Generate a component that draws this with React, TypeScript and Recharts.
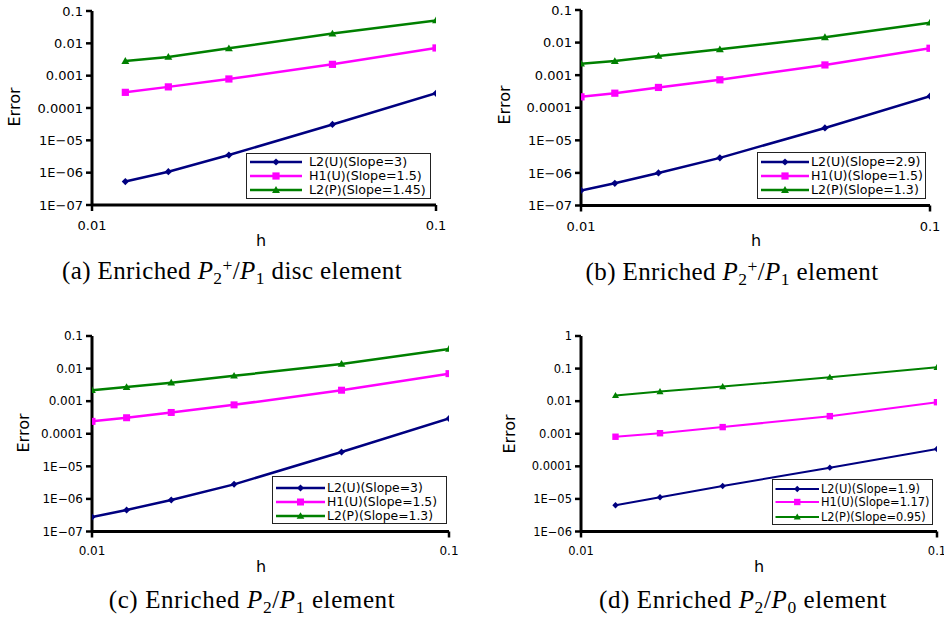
import React from "react";
import { LineChart, Line, XAxis, YAxis, Legend } from "recharts";

// mesh sizes h and error norms
const hA = [0.0125, 0.01667, 0.025, 0.05, 0.1];
const l2uA = [5.3e-7, 1.07e-6, 3.5e-6, 3.1e-5, 2.85e-4];
const h1uA = [3.05e-4, 4.5e-4, 7.9e-4, 2.24e-3, 7.2e-3];
const l2pA = [2.84e-3, 3.8e-3, 7.0e-3, 0.02, 0.051];
const namesA = ["L2(U)(Slope=3)", "H1(U)(Slope=1.5)", "L2(P)(Slope=1.45)"];

const hB = [0.01, 0.0125, 0.01667, 0.025, 0.05, 0.1];
const l2uB = [2.9e-7, 4.8e-7, 1.0e-6, 2.9e-6, 2.4e-5, 2.26e-4];
const h1uB = [2.16e-4, 2.8e-4, 4.2e-4, 7.2e-4, 2.06e-3, 6.7e-3];
const l2pB = [2.26e-3, 2.7e-3, 3.9e-3, 6.2e-3, 0.0145, 0.041];
const namesB = ["L2(U)(Slope=2.9)", "H1(U)(Slope=1.5)", "L2(P)(Slope=1.3)"];

const hC = [0.01, 0.0125, 0.01667, 0.025, 0.05, 0.1];
const l2uC = [2.8e-7, 4.6e-7, 9.3e-7, 2.8e-6, 2.75e-5, 2.95e-4];
const h1uC = [2.4e-4, 3.1e-4, 4.5e-4, 7.7e-4, 2.17e-3, 7.0e-3];
const l2pC = [2.17e-3, 2.7e-3, 3.7e-3, 6.0e-3, 0.0139, 0.04];
const namesC = ["L2(U)(Slope=3)", "H1(U)(Slope=1.5)", "L2(P)(Slope=1.3)"];

const hD = [0.0125, 0.01667, 0.025, 0.05, 0.1];
const l2uD = [6.4e-6, 1.12e-5, 2.5e-5, 9.1e-5, 3.4e-4];
const h1uD = [8.1e-4, 1.04e-3, 1.6e-3, 3.47e-3, 9.3e-3];
const l2pD = [0.0149, 0.0197, 0.028, 0.054, 0.109];
const namesD = ["L2(U)(Slope=1.9)", "H1(U)(Slope=1.17)", "L2(P)(Slope=0.95)"];

const xTicks = [0.01, 0.1];
const xTickLabels = ["0.01", "0.1"];
const yTicks7 = [1e-7, 1e-6, 1e-5, 1e-4, 1e-3, 1e-2, 1e-1];
const yTickLabels7 = ["1E\u221207", "1E\u221206", "1E\u221205", "0.0001", "0.001", "0.01", "0.1"];
const yTicks6 = [1e-6, 1e-5, 1e-4, 1e-3, 1e-2, 1e-1, 1];
const yTickLabels6 = ["1E\u221206", "1E\u221205", "0.0001", "0.001", "0.01", "0.1", "1"];

const FONT = '"DejaVu Sans", sans-serif';
const SERIF = '"Liberation Serif", "Times New Roman", serif';
const COLORS = ["#000080", "#FF00FF", "#008000"];
const SHAPES = ["diamond", "square", "triangle"];
const KEYS = ["l2u", "h1u", "l2p"];

function labelFor(v, ticks, labels) {
  let best = 0;
  ticks.forEach((t, i) => {
    if (Math.abs(Math.log10(t) - Math.log10(v)) < Math.abs(Math.log10(ticks[best]) - Math.log10(v))) best = i;
  });
  return labels[best];
}

function Marker({ shape, cx, cy, color, s }) {
  if (cx == null || cy == null) return null;
  if (shape === "diamond") {
    return <polygon points={`${cx},${cy - s} ${cx + s},${cy} ${cx},${cy + s} ${cx - s},${cy}`} fill={color} />;
  }
  if (shape === "square") {
    return <rect x={cx - s} y={cy - s} width={2 * s} height={2 * s} fill={color} />;
  }
  return <polygon points={`${cx},${cy - s * 1.1} ${cx + s * 1.1},${cy + s * 0.8} ${cx - s * 1.1},${cy + s * 0.8}`} fill={color} />;
}

function Sub({ children }) {
  return <span style={{ fontSize: "0.7em", verticalAlign: "-0.28em", lineHeight: 0 }}>{children}</span>;
}

// inline sub then superscript, kept in the text flow
function SubSup({ sub, sup }) {
  return (
    <>
      <span style={{ fontSize: "0.7em", verticalAlign: "-0.28em", lineHeight: 0 }}>{sub}</span>
      <span style={{ fontSize: "0.7em", verticalAlign: "0.46em", lineHeight: 0 }}>{sup}</span>
    </>
  );
}

const P = () => <i>P</i>;

const panels = [
  {
    id: "a", h: hA, l2u: l2uA, h1u: h1uA, l2p: l2pA, names: namesA,
    yTicks: yTicks7, yLabels: yTickLabels7,
    x0: 92, x1: 436, y0: 11, y1: 205, tickFs: 13, legendFs: 12.7, sw: 2.5, ms: 3.6, xtm: 10,
    lg: { x: 246, y: 152.5, w: 185, h: 46, l0: 4, l1: 56, tx: 63, rows: [8.5, 22, 36.5] },
    err: [15, 107], hl: [261, 241],
    cap: { cx: 232, top: 258, ls: 0.4 },
    caption: <>(a) Enriched <P /><SubSup sub="2" sup="+" />/<P /><Sub>1</Sub> disc element</>,
  },
  {
    id: "b", h: hB, l2u: l2uB, h1u: h1uB, l2p: l2pB, names: namesB,
    yTicks: yTicks7, yLabels: yTickLabels7,
    x0: 581, x1: 930, y0: 9.5, y1: 205, tickFs: 13, legendFs: 12.6, sw: 2.5, ms: 3.6, xtm: 10,
    lg: { x: 757, y: 152, w: 169, h: 47, l0: 4, l1: 52, tx: 54, rows: [9, 23, 37.3] },
    err: [505, 105], hl: [756, 241],
    cap: { cx: 732, top: 258.5, ls: 0.4 },
    caption: <>(b) Enriched <P /><SubSup sub="2" sup="+" />/<P /><Sub>1</Sub> element</>,
  },
  {
    id: "c", h: hC, l2u: l2uC, h1u: h1uC, l2p: l2pC, names: namesC,
    yTicks: yTicks7, yLabels: yTickLabels7,
    x0: 92, x1: 449, y0: 335.5, y1: 531, tickFs: 12, legendFs: 12.4, sw: 2.5, ms: 3.5, xtm: 9,
    lg: { x: 272, y: 476, w: 175, h: 48, l0: 4, l1: 53, tx: 55, rows: [10.5, 24.7, 39] },
    err: [24, 433], hl: [261, 567],
    cap: { cx: 252, top: 587, ls: 0.6 },
    caption: <>(c) Enriched <P /><Sub>2</Sub>/<P /><Sub>1</Sub> element</>,
  },
  {
    id: "d", h: hD, l2u: l2uD, h1u: h1uD, l2p: l2pD, names: namesD,
    yTicks: yTicks6, yLabels: yTickLabels6,
    x0: 581, x1: 937, y0: 335.5, y1: 531, tickFs: 11.5, legendFs: 11.4, sw: 2, ms: 3.2, xtm: 9,
    lg: { x: 772, y: 479, w: 161, h: 46, l0: 3.5, l1: 47, tx: 49, rows: [9, 22.4, 37.4] },
    err: [510, 434], hl: [759, 567],
    cap: { cx: 743, top: 587, ls: 0.6 },
    caption: <>(d) Enriched <P /><Sub>2</Sub>/<P /><Sub>0</Sub> element</>,
  },
];

const YW = 90;
const MT = 10;
const MR = 20;
const XH = 40;

function LegendBox({ p }) {
  const { lg } = p;
  return (
    <div
      style={{
        width: lg.w, height: lg.h, border: "1px solid #222", background: "#fff",
        boxSizing: "border-box", position: "relative", fontFamily: FONT, fontSize: p.legendFs, color: "#000",
      }}
    >
      {p.names.map((name, i) => (
        <div key={name} style={{ position: "absolute", left: -1, top: lg.rows[i] - 8, height: 16, display: "flex", alignItems: "center" }}>
          <svg width={lg.tx} height={16} style={{ flex: "none" }}>
            <line x1={lg.l0} x2={lg.l1} y1={8} y2={8} stroke={COLORS[i]} strokeWidth={p.sw} />
            <Marker shape={SHAPES[i]} cx={(lg.l0 + lg.l1) / 2} cy={8} color={COLORS[i]} s={p.ms} />
          </svg>
          <span style={{ whiteSpace: "nowrap", lineHeight: "16px" }}>{name}</span>
        </div>
      ))}
    </div>
  );
}

function Panel({ p }) {
  const width = YW + (p.x1 - p.x0) + MR;
  const height = MT + (p.y1 - p.y0) + XH;
  const left = p.x0 - YW;
  const top = p.y0 - MT;
  const rows = p.h.map((h, i) => ({ h, l2u: p.l2u[i], h1u: p.h1u[i], l2p: p.l2p[i] }));
  const tick = { fill: "#000", fontSize: p.tickFs, fontFamily: FONT };
  return (
    <>
      <div style={{ position: "absolute", left, top }}>
        <LineChart width={width} height={height} data={rows} margin={{ top: MT, right: MR, left: 0, bottom: 0 }}>
          <XAxis
            dataKey="h" type="number" scale="log" domain={[0.01, 0.1]} allowDataOverflow
            ticks={xTicks} interval={0} height={XH}
            tickFormatter={(v) => labelFor(v, xTicks, xTickLabels)}
            axisLine={{ stroke: "#000", strokeWidth: 3 }}
            tickLine={{ stroke: "#000", strokeWidth: 2.5 }}
            tickSize={6} tickMargin={p.xtm} tick={tick}
          />
          <YAxis
            type="number" scale="log" domain={[p.yTicks[0], p.yTicks[p.yTicks.length - 1]]} allowDataOverflow
            ticks={p.yTicks} interval={0} width={YW}
            tickFormatter={(v) => labelFor(v, p.yTicks, p.yLabels)}
            axisLine={{ stroke: "#000", strokeWidth: 3 }}
            tickLine={{ stroke: "#000", strokeWidth: 2.5 }}
            tickSize={6} tickMargin={3} tick={tick}
          />
          {KEYS.map((k, i) => (
            <Line
              key={k} dataKey={k} name={p.names[i]} type="linear"
              stroke={COLORS[i]} strokeWidth={p.sw} isAnimationActive={false} activeDot={false}
              dot={(d) => <Marker key={`${k}-${d.index}`} shape={SHAPES[i]} cx={d.cx} cy={d.cy} color={COLORS[i]} s={p.ms} />}
            />
          ))}
          <Legend
            layout="vertical" align="center" verticalAlign="middle"
            wrapperStyle={{ left: p.lg.x - left, top: p.lg.y - top, width: p.lg.w, height: p.lg.h, right: "auto", bottom: "auto" }}
            content={() => <LegendBox p={p} />}
          />
        </LineChart>
      </div>
      <div
        style={{
          position: "absolute", left: p.err[0], top: p.err[1], transform: "translate(-50%, -50%) rotate(-90deg)",
          fontFamily: FONT, fontSize: 16, lineHeight: "18px", whiteSpace: "nowrap",
        }}
      >
        Error
      </div>
      <div
        style={{
          position: "absolute", left: p.hl[0], top: p.hl[1], transform: "translate(-50%, -50%)",
          fontFamily: FONT, fontSize: 16, lineHeight: "18px",
        }}
      >
        h
      </div>
      <div
        style={{
          position: "absolute", left: p.cap.cx - 250, top: p.cap.top, width: 500, textAlign: "center",
          fontFamily: SERIF, fontSize: 25, letterSpacing: `${p.cap.ls}px`, lineHeight: "25px", whiteSpace: "nowrap",
        }}
      >
        {p.caption}
      </div>
    </>
  );
}

export default function App() {
  return (
    <div style={{ position: "absolute", left: 0, top: 0, width: 944, height: 618, overflow: "hidden", background: "#fff" }}>
      {panels.map((p) => (
        <Panel key={p.id} p={p} />
      ))}
    </div>
  );
}
